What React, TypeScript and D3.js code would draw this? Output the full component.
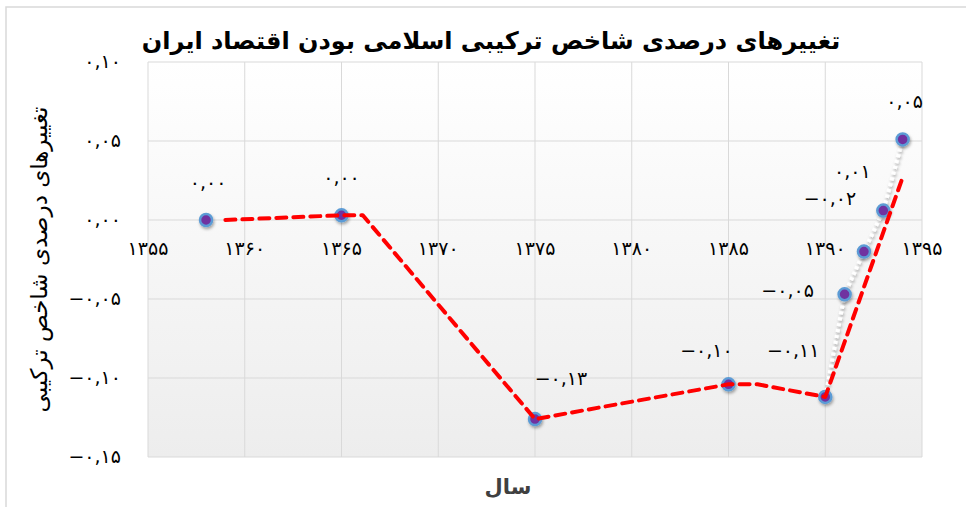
import * as d3 from 'd3';

// Chart values
const YEARS = [1358, 1365, 1375, 1385, 1390, 1391, 1392, 1393, 1394];
const VALUES = [0.0, 0.003, -0.126, -0.104, -0.112, -0.047, -0.02, 0.006, 0.051];

// red dashed trend line vertices
const TREND_YEARS = [1359, 1365, 1366.1, 1375, 1385, 1386.5, 1390, 1394];
const TREND_VALUES = [0.0, 0.003, 0.003, -0.126, -0.104, -0.104, -0.112, 0.027];

const X_TICKS = [1355, 1360, 1365, 1370, 1375, 1380, 1385, 1390, 1395];
const Y_TICKS = [-0.15, -0.1, -0.05, 0, 0.05, 0.1];

const TITLE = 'تغییرهای درصدی شاخص ترکیبی اسلامی بودن اقتصاد ایران';
const Y_TITLE = 'تغییرهای درصدی شاخص ترکیبی';
const X_TITLE = 'سال';

// label placement relative to each point
const LABEL_OFFSETS: [number, number][] = [
  [2, -37], [0, -37], [26, -40], [-22, -33], [-32, -45],
  [-57, -3], [-34, -52], [-31, -38], [2, -37],
];

const WIDTH = 966;
const HEIGHT = 507;
const MARGIN = { top: 62, right: 44, bottom: 50, left: 148 };

const FONT = '"DejaVu Sans", sans-serif';

const faDigits = (s: string) =>
  s.replace(/\d/g, (d) => '۰۱۲۳۴۵۶۷۸۹'[+d]).replace('.', ',').replace('-', '−');

const fmt2 = d3.format('.2f');

export default function App() {
  const x = d3
    .scaleLinear()
    .domain([1355, 1395])
    .range([MARGIN.left, WIDTH - MARGIN.right]);
  const y = d3
    .scaleLinear()
    .domain([-0.15, 0.1])
    .range([HEIGHT - MARGIN.bottom, MARGIN.top]);

  const points = YEARS.map((yr, i) => ({ yr, v: VALUES[i] }));
  const trend = TREND_YEARS.map((yr, i) => ({ yr, v: TREND_VALUES[i] }));

  const line = d3
    .line<{ yr: number; v: number }>()
    .x((d) => x(d.yr))
    .y((d) => y(d.v));

  const x0 = x.range()[0];
  const x1 = x.range()[1];
  const yTop = y.range()[1];
  const yBot = y.range()[0];

  return (
    <svg
      width={WIDTH}
      height={HEIGHT}
      style={{ position: 'absolute', left: 0, top: 0, background: '#fff' }}
    >
      <defs>
        <linearGradient id="plotBg" x1="0" y1="0" x2="0" y2="1">
          <stop offset="0%" stopColor="#ffffff" />
          <stop offset="100%" stopColor="#ededed" />
        </linearGradient>
        <filter id="shadow" x="-50%" y="-50%" width="200%" height="200%">
          <feDropShadow dx="1" dy="2" stdDeviation="1.5" floodColor="#000" floodOpacity="0.35" />
        </filter>
      </defs>

      {/* chart border */}
      <rect x={6} y={7} width={WIDTH + 20} height={HEIGHT + 20} fill="none" stroke="#d9d9d9" strokeWidth={1.5} />

      {/* plot area */}
      <rect x={x0} y={yTop} width={x1 - x0} height={yBot - yTop} fill="url(#plotBg)" />
      {X_TICKS.map((t) => (
        <line key={'gx' + t} x1={x(t)} x2={x(t)} y1={yTop} y2={yBot} stroke="#d9d9d9" strokeWidth={1} />
      ))}
      {Y_TICKS.map((t) => (
        <line key={'gy' + t} x1={x0} x2={x1} y1={y(t)} y2={y(t)} stroke="#d9d9d9" strokeWidth={1} />
      ))}

      {/* y tick labels */}
      {Y_TICKS.map((t) => (
        <text
          key={'ly' + t}
          x={x0 - 27}
          y={y(t)}
          textAnchor="end"
          dominantBaseline="middle"
          direction="ltr"
          fontFamily={FONT}
          fontSize={19}
          fill="#000"
        >
          {faDigits(fmt2(t))}
        </text>
      ))}

      {/* x tick labels, on the zero line */}
      {X_TICKS.map((t) => (
        <text
          key={'lx' + t}
          x={x(t)}
          y={y(0) + 29}
          textAnchor="middle"
          dominantBaseline="middle"
          direction="ltr"
          fontFamily={FONT}
          fontSize={19}
          fill="#000"
        >
          {faDigits(String(t))}
        </text>
      ))}

      {/* white dotted series line (visible part) */}
      <path
        d={line(points.slice(4)) ?? ''}
        fill="none"
        stroke="#ffffff"
        strokeWidth={4}
        strokeDasharray="3 3"
        filter="url(#shadow)"
      />

      {/* markers */}
      {points.map((d, i) => (
        <circle
          key={'m' + i}
          cx={x(d.yr)}
          cy={y(d.v)}
          r={6}
          fill="#7030A0"
          stroke="#5B9BD5"
          strokeWidth={2.5}
          filter="url(#shadow)"
        />
      ))}

      {/* red dashed trend */}
      <path
        d={line(trend) ?? ''}
        fill="none"
        stroke="#ff0000"
        strokeWidth={4}
        strokeDasharray="10 7"
        strokeLinecap="round"
        strokeLinejoin="round"
      />

      {/* data labels */}
      {points.map((d, i) => (
        <text
          key={'dl' + i}
          x={x(d.yr) + LABEL_OFFSETS[i][0]}
          y={y(d.v) + LABEL_OFFSETS[i][1]}
          textAnchor="middle"
          dominantBaseline="middle"
          direction="ltr"
          fontFamily={FONT}
          fontSize={19}
          fill="#000"
        >
          {faDigits(fmt2(d.v))}
        </text>
      ))}

      {/* titles */}
      <text
        x={WIDTH / 2 + 8}
        y={42}
        textAnchor="middle"
        dominantBaseline="middle"
        direction="rtl"
        fontFamily={FONT}
        fontSize={24}
        fontWeight="bold"
        fill="#000"
      >
        {TITLE}
      </text>
      <text
        transform={`translate(40, ${(yTop + yBot) / 2}) rotate(-90)`}
        textAnchor="middle"
        dominantBaseline="middle"
        direction="rtl"
        fontFamily={FONT}
        fontSize={23}
        fill="#000"
      >
        {Y_TITLE}
      </text>
      <text
        x={508}
        y={488}
        textAnchor="middle"
        dominantBaseline="middle"
        direction="rtl"
        fontFamily={FONT}
        fontSize={21}
        fontWeight="bold"
        fill="#404040"
      >
        {X_TITLE}
      </text>
    </svg>
  );
}
